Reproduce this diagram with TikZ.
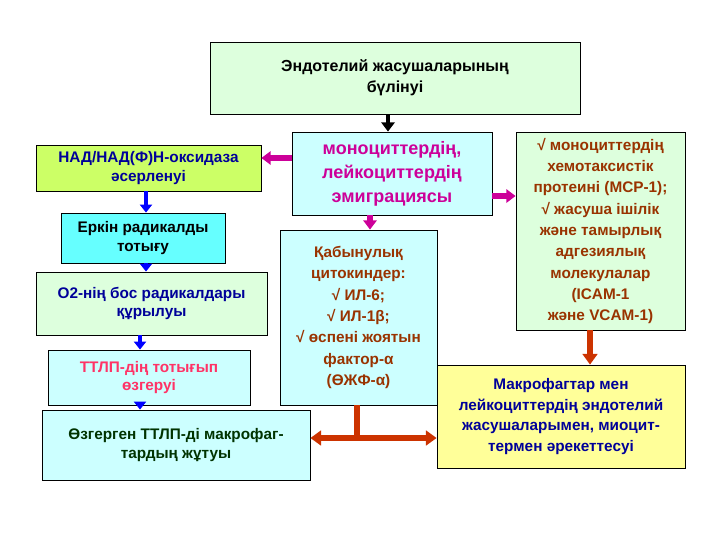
\documentclass[tikz,border=0pt]{standalone}
\usepackage{fontspec}
\setmainfont{Liberation Sans}
\usetikzlibrary{arrows.meta}
\definecolor{lgreen}{HTML}{DDFFDD}
\definecolor{ygreen}{HTML}{CCFF66}
\definecolor{cyanb}{HTML}{66FFFF}
\definecolor{lcyan}{HTML}{CCFFFF}
\definecolor{lyellow}{HTML}{FFFF99}
\definecolor{mag}{HTML}{CC0099}
\definecolor{brn}{HTML}{CC3300}
\definecolor{dred}{HTML}{993300}
\definecolor{dblue}{HTML}{000099}
\definecolor{pinkred}{HTML}{FF3366}
\definecolor{dgreen}{HTML}{003300}
\begin{document}
\begin{tikzpicture}[x=0.75pt,y=-0.75pt,
  box/.style={draw=black,line width=0.6pt,align=center,font=\bfseries\fontsize{11.5}{14}\selectfont,inner sep=0pt},
  ba/.style={-{Triangle[length=6pt,width=9pt]},line width=3pt,blue},
  ma/.style={-{Triangle[length=7pt,width=10pt]},line width=4pt,mag},
  ra/.style={-{Triangle[length=8pt,width=11pt]},line width=4pt,brn}]
\useasboundingbox (0,0) rectangle (720,540);
\node[box,fill=lgreen,minimum width=370*0.75pt,minimum height=72*0.75pt,font=\bfseries\fontsize{12}{16}\selectfont] (top) at (395,78) {Эндотелий жасушаларының\\ бүлінуі};
\node[box,fill=ygreen,text=dblue,minimum width=225*0.75pt,minimum height=46*0.75pt] (nad) at (148.5,168) {НАД/НАД(Ф)Н-оксидаза\\ әсерленуі};
\node[box,fill=cyanb,minimum width=164*0.75pt,minimum height=50*0.75pt] (erk) at (143,238) {Еркін радикалды\\ тотығу};
\node[box,fill=lgreen,text=dblue,minimum width=231*0.75pt,minimum height=63*0.75pt] (o2) at (151.5,303.5) {О2-нің бос радикалдары\\ құрылуы};
\node[box,fill=lcyan,text=pinkred,minimum width=202*0.75pt,minimum height=55*0.75pt] (ttlp) at (149,377.5) {ТТЛП-дің тотығып\\ өзгеруі};
\node[box,fill=lcyan,text=dgreen,minimum width=268*0.75pt,minimum height=70*0.75pt] (ozg) at (176,445) {Өзгерген ТТЛП-ді макрофаг-\\ тардың жұтуы};
\node[box,fill=lcyan,text=mag,minimum width=200*0.75pt,minimum height=83*0.75pt,font=\bfseries\fontsize{13.5}{18}\selectfont] (mono) at (392,173.5) {моноциттердің,\\ лейкоциттердің\\ эмиграциясы};
\node[box,fill=lcyan,text=dred,minimum width=157*0.75pt,minimum height=175*0.75pt,font=\bfseries\fontsize{11.5}{16}\selectfont] (qab) at (358.5,317.5) {Қабынулық\\ цитокиндер:\\ √ ИЛ-6;\\ √ ИЛ-1β;\\ √ өспені жоятын\\ фактор-α\\ (ӨЖФ-α)};
\node[box,fill=lgreen,text=dred,minimum width=169*0.75pt,minimum height=198*0.75pt,font=\bfseries\fontsize{11.5}{16}\selectfont] (rt) at (600.5,231) {√ моноциттердің\\ хемотаксистік\\ протеині (МСР-1);\\ √ жасуша ішілік\\ және тамырлық\\ адгезиялық\\ молекулалар\\ (ICAM-1\\ және VCAM-1)};
\node[box,fill=lyellow,text=dblue,minimum width=248*0.75pt,minimum height=103*0.75pt,font=\bfseries\fontsize{11.5}{15.5}\selectfont] (mac) at (561,416.5) {Макрофагтар мен\\ лейкоциттердің эндотелий\\ жасушаларымен, миоцит-\\ термен әрекеттесуі};
\draw[-{Triangle[length=7pt,width=10pt]},line width=3pt] (top.south -| 388,0) -- (mono.north -| 388,0);
\draw[ma] (mono.west |- 0,158) -- (nad.east |- 0,158);
\draw[ma] (mono.east |- 0,196) -- (rt.west |- 0,196);
\draw[ma] (mono.south -| 370,0) -- (qab.north -| 370,0);
\draw[ba] (nad.south -| 146,0) -- (erk.north -| 146,0);
\draw[ba] (erk.south -| 146,0) -- (o2.north -| 146,0);
\draw[ba] (o2.south -| 140,0) -- (ttlp.north -| 140,0);
\draw[ba] (ttlp.south -| 140,0) -- (ozg.north -| 140,0);
\draw[ra] (rt.south -| 590,0) -- (mac.north -| 590,0);
\coordinate (j) at (357,438);
\draw[line width=4pt,brn] (qab.south -| j) -- (j);
\draw[ra] (j) -- (ozg.east |- j);
\draw[ra] (j) -- (mac.west |- j);
\end{tikzpicture}
\end{document}
